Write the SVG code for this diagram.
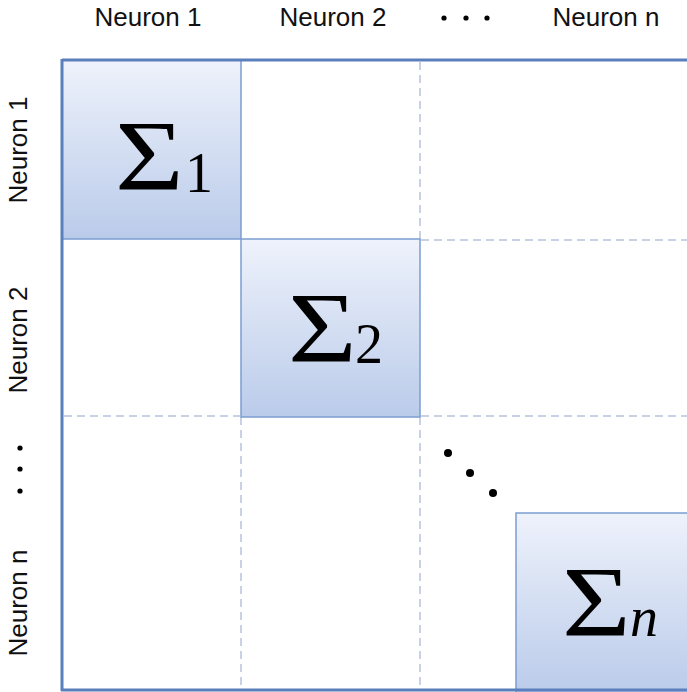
<svg xmlns="http://www.w3.org/2000/svg" width="687" height="692" viewBox="0 0 687 692">
<style>
.lbl{font-family:"Liberation Sans","DejaVu Sans",sans-serif;font-size:26px;fill:#111;}
.sig{font-family:"Liberation Serif","DejaVu Serif",serif;fill:#000;}
.box{fill:url(#g);stroke:#7b9dd1;stroke-width:1.5;}
.dash{stroke:#b7c3dc;stroke-width:1.5;stroke-dasharray:8 5;fill:none;}
.frame{stroke:#5b7ebd;stroke-width:3;fill:none;}
</style>
<defs>
<linearGradient id="g" x1="0" y1="0" x2="0" y2="1">
<stop offset="0" stop-color="#eef2fb"/>
<stop offset="1" stop-color="#bacbea"/>
</linearGradient>
</defs>
<rect width="687" height="692" fill="#fff"/>
<g id="connectors">
<line class="dash" x1="420" y1="62" x2="420" y2="239"/>
<line class="dash" x1="420" y1="417" x2="420" y2="689"/>
<line class="dash" x1="241" y1="417" x2="241" y2="689"/>
<line class="dash" x1="421" y1="240" x2="687" y2="240"/>
<line class="dash" x1="64" y1="416" x2="240" y2="416"/>
<line class="dash" x1="421" y1="416" x2="687" y2="416"/>
</g>
<g id="box1"><rect class="box" x="62" y="60" width="179" height="179"/>
<text class="sig" transform="translate(115,189) scale(1.18,1)" font-size="100">Σ</text><text class="sig" x="185" y="192" font-size="56">1</text></g>
<g id="box2"><rect class="box" x="241" y="239" width="179" height="178"/>
<text class="sig" transform="translate(288,361) scale(1.18,1)" font-size="100">Σ</text><text class="sig" x="355" y="363" font-size="56">2</text></g>
<g id="boxn"><rect class="box" x="516" y="513" width="180" height="180"/>
<text class="sig" transform="translate(562,635) scale(1.18,1)" font-size="100">Σ</text><text class="sig" x="630" y="636" font-size="56" font-style="italic">n</text></g>
<g id="frame">
<line class="frame" x1="62" y1="60" x2="687" y2="60"/>
<line class="frame" x1="62" y1="59" x2="62" y2="691"/>
<line class="frame" x1="61" y1="690" x2="687" y2="690"/>
</g>
<g id="top-labels">
<text class="lbl" x="148" y="26" text-anchor="middle">Neuron 1</text>
<text class="lbl" x="333" y="26" text-anchor="middle">Neuron 2</text>
<text class="lbl" x="606" y="26" text-anchor="middle">Neuron n</text>
<circle cx="444" cy="18" r="2.6"/><circle cx="466" cy="18" r="2.6"/><circle cx="487" cy="18" r="2.6"/>
</g>
<g id="side-labels">
<text class="lbl" transform="translate(27,150) rotate(-90)" text-anchor="middle">Neuron 1</text>
<text class="lbl" transform="translate(27,340) rotate(-90)" text-anchor="middle">Neuron 2</text>
<text class="lbl" transform="translate(27,603) rotate(-90)" text-anchor="middle">Neuron n</text>
<circle cx="20" cy="448" r="2.6"/><circle cx="20" cy="469" r="2.6"/><circle cx="20" cy="491" r="2.6"/>
</g>
<g id="diag-dots">
<circle cx="448" cy="453" r="4"/><circle cx="470" cy="473" r="4"/><circle cx="493" cy="493" r="4"/>
</g>
</svg>
